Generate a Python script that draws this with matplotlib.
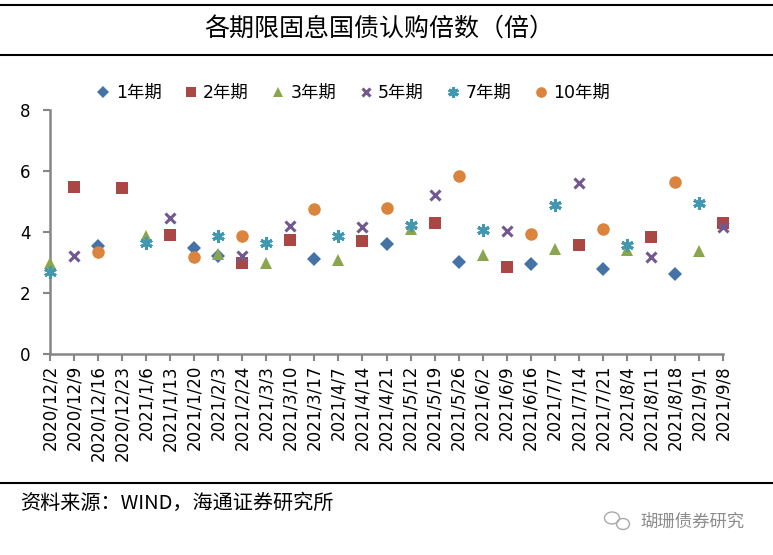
import numpy as np
import matplotlib
matplotlib.use("Agg")
import matplotlib.pyplot as plt
from matplotlib.lines import Line2D
from matplotlib.patches import Ellipse

plt.rcParams["font.family"] = ["DejaVu Sans", "Noto Sans CJK SC"]

dates = ["2020/12/2", "2020/12/9", "2020/12/16", "2020/12/23", "2021/1/6",
         "2021/1/13", "2021/1/20", "2021/2/3", "2021/2/24", "2021/3/3",
         "2021/3/10", "2021/3/17", "2021/4/7", "2021/4/14", "2021/4/21",
         "2021/5/12", "2021/5/19", "2021/5/26", "2021/6/2", "2021/6/9",
         "2021/6/16", "2021/7/7", "2021/7/14", "2021/7/21", "2021/8/4",
         "2021/8/11", "2021/8/18", "2021/9/1", "2021/9/8"]

# auction multiples, keyed by date index (missing = no issue of that tenor)
y1 = {2: 3.54, 6: 3.49, 7: 3.20, 11: 3.12, 14: 3.61, 17: 3.01, 20: 2.96, 23: 2.79, 26: 2.62}
y2 = {1: 5.49, 3: 5.43, 5: 3.89, 8: 2.99, 10: 3.74, 13: 3.70, 16: 4.31, 19: 2.84,
      22: 3.57, 25: 3.83, 28: 4.28}
y3 = {0: 2.98, 4: 3.88, 7: 3.27, 9: 3.00, 12: 3.08, 15: 4.11, 18: 3.25, 21: 3.44,
      24: 3.40, 27: 3.37}
y5 = {1: 3.21, 5: 4.47, 8: 3.21, 10: 4.20, 13: 4.15, 16: 5.20, 19: 4.04, 22: 5.60,
      25: 3.19, 28: 4.16}
y7 = {0: 2.70, 4: 3.65, 7: 3.88, 9: 3.65, 12: 3.88, 15: 4.22, 18: 4.05, 21: 4.89,
      24: 3.56, 27: 4.95}
y10 = {2: 3.33, 6: 3.17, 8: 3.86, 11: 4.76, 14: 4.78, 17: 5.84, 20: 3.93, 23: 4.09,
       26: 5.64}

labels = ["1年期", "2年期", "3年期", "5年期", "7年期", "10年期"]
colors = ["#4572A7", "#AA4643", "#89A54E", "#71588F", "#4198AF", "#DB843D"]
markers = ["D", "s", "^", "x", (6, 2, 0), "o"]
sizes = [7, 8.5, 8.5, 7.5, 9, 9]


def to_array(d):
    arr = np.full(len(dates), np.nan)
    for k, v in d.items():
        arr[k] = v
    return arr


fig = plt.figure(figsize=(7.73, 5.55), dpi=100)
ax = fig.add_axes([50 / 773, 1 - 354 / 555, 673 / 773, 244 / 555])

x = np.arange(len(dates))
handles = []
for data, lab, c, m, ms in zip([y1, y2, y3, y5, y7, y10], labels, colors, markers, sizes):
    mew = 2.2 if m in ("x", (6, 2, 0)) else 0
    ax.plot(x, to_array(data), linestyle="none", marker=m, markersize=ms,
            color=c, markeredgecolor=c, markeredgewidth=mew, clip_on=False, zorder=3)
    handles.append(Line2D([], [], linestyle="none", marker=m, markersize=ms * 0.85,
                          color=c, markeredgecolor=c, markeredgewidth=mew, label=lab))

ax.set_xlim(0, len(dates) - 1)
ax.set_ylim(0, 8)
ax.set_yticks([0, 2, 4, 6, 8])
ax.set_xticks(x)
ax.set_xticklabels(dates, rotation=90, fontsize=12)
ax.tick_params(axis="y", labelsize=12, length=5, width=1.5, color="#868686", pad=9)
ax.tick_params(axis="x", length=5, width=1.5, color="#868686", pad=3)
for s in ["top", "right"]:
    ax.spines[s].set_visible(False)
for s in ["left", "bottom"]:
    ax.spines[s].set_color("#868686")
    ax.spines[s].set_linewidth(1.8)

fig.legend(handles=handles, loc="center", bbox_to_anchor=(353 / 773, 1 - 93 / 555),
           ncol=6, frameon=False, fontsize=12.5, handlelength=0.8,
           handletextpad=0.3, columnspacing=1.3)

# header / footer rules and text
for yy in [5, 55, 483]:
    fig.add_artist(Line2D([0, 1], [1 - yy / 555] * 2, color="black", linewidth=1.5))
fig.text(0.49, 1 - 30 / 555, "各期限固息国债认购倍数（倍）", ha="center", va="center",
         fontsize=18, family=["Noto Sans CJK SC"], weight="medium")
fig.text(20 / 773, 1 - 503 / 555, "资料来源：WIND，海通证券研究所", ha="left", va="center",
         fontsize=14.5, family=["Noto Sans CJK SC"])
fig.text(640 / 773, 1 - 522 / 555, "瑚珊债券研究", ha="left", va="center",
         fontsize=12.5, color="#8c8c8c", family=["Noto Sans CJK SC"])
fig.add_artist(Ellipse((612 / 773, 1 - 518 / 555), 15 / 773, 12 / 555, fill=False,
                       edgecolor="#aaaaaa", linewidth=1))
fig.add_artist(Ellipse((623 / 773, 1 - 524 / 555), 13 / 773, 11 / 555, fill=False,
                       edgecolor="#aaaaaa", linewidth=1))

fig.savefig("out.png", dpi=100)
